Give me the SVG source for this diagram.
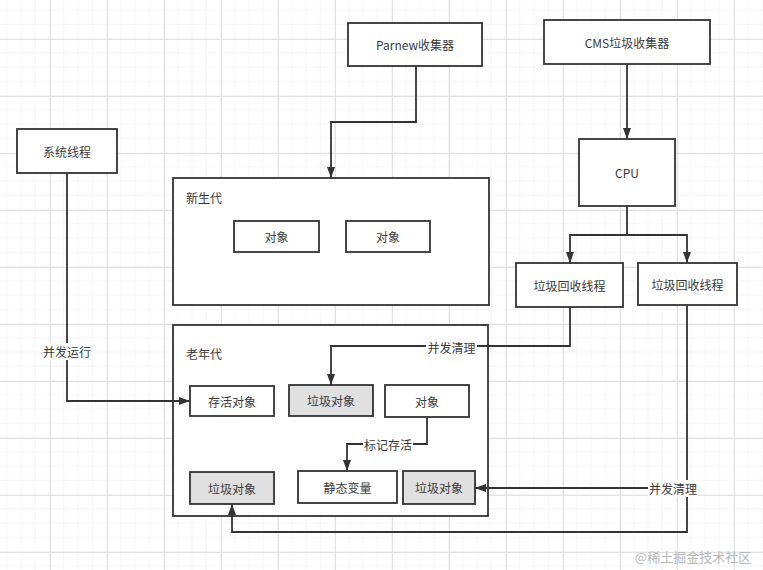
<svg xmlns="http://www.w3.org/2000/svg" width="763" height="570" viewBox="0 0 763 570">
<defs>
<pattern id="minor" x="7.25" y="10.5" width="14.25" height="14.25" patternUnits="userSpaceOnUse">
<path d="M14.25 0V14.25M0 14.25H14.25" fill="none" stroke="#eeeeee" stroke-width="1"/>
</pattern>
<pattern id="major" x="50" y="39" width="57" height="57" patternUnits="userSpaceOnUse">
<path d="M0.5 0V57M0 0.5H57" fill="none" stroke="#e2e2e2" stroke-width="1"/>
</pattern>
<marker id="arr" viewBox="0 0 11 8" refX="11" refY="4" markerWidth="11" markerHeight="8" markerUnits="userSpaceOnUse" orient="auto">
<path d="M0 0L11 4L0 8Z" fill="#333"/>
</marker>
</defs>
<style>
.box{fill:#fff;stroke:#333;stroke-width:1.8}
.gray{fill:#e0e0e0;stroke:#333;stroke-width:1.8}
.t{font-family:"Noto Sans CJK SC","Liberation Sans",sans-serif;font-size:12px;fill:#3a3a3a;text-anchor:middle;dominant-baseline:central}
.tl{font-family:"Noto Sans CJK SC","Liberation Sans",sans-serif;font-size:12px;fill:#3a3a3a;dominant-baseline:central}
.e{fill:none;stroke:#333;stroke-width:1.8;marker-end:url(#arr)}
.lbg{fill:#fff}
</style>
<rect width="763" height="570" fill="#fff"/>
<rect width="763" height="570" fill="url(#minor)"/>
<rect width="763" height="570" fill="url(#major)"/>

<g id="parnew"><rect class="box" x="348" y="23" width="134" height="43"/><text class="t" x="415" y="44.5">Parnew收集器</text></g>
<g id="cms"><rect class="box" x="544" y="20" width="166" height="44"/><text class="t" x="627" y="42">CMS垃圾收集器</text></g>
<g id="cpu"><rect class="box" x="579" y="139" width="96" height="67"/><text class="t" x="627" y="172.5">CPU</text></g>
<g id="sys"><rect class="box" x="17" y="129" width="100" height="44"/><text class="t" x="67" y="151">系统线程</text></g>
<g id="gc1"><rect class="box" x="516" y="263" width="107" height="44"/><text class="t" x="569.5" y="285">垃圾回收线程</text></g>
<g id="gc2"><rect class="box" x="638" y="263" width="99" height="42"/><text class="t" x="687.5" y="284">垃圾回收线程</text></g>

<g id="young"><rect class="box" x="173" y="178" width="316" height="127"/><text class="tl" x="186" y="197">新生代</text></g>
<g id="yobj1"><rect class="box" x="234" y="221" width="85" height="31"/><text class="t" x="276.5" y="236.5">对象</text></g>
<g id="yobj2"><rect class="box" x="346" y="221" width="84" height="31"/><text class="t" x="388" y="236.5">对象</text></g>

<g id="old"><rect class="box" x="173" y="325" width="315" height="191"/><text class="tl" x="186" y="353">老年代</text></g>
<g id="alive"><rect class="box" x="190" y="386" width="84" height="30"/><text class="t" x="232" y="401">存活对象</text></g>
<g id="garbage1"><rect class="gray" x="289" y="385" width="84" height="31"/><text class="t" x="331" y="400.5">垃圾对象</text></g>
<g id="obj"><rect class="box" x="385" y="385" width="84" height="32"/><text class="t" x="427" y="401">对象</text></g>
<g id="garbage2"><rect class="gray" x="190" y="472" width="84" height="32"/><text class="t" x="232" y="488">垃圾对象</text></g>
<g id="static"><rect class="box" x="298" y="471" width="99" height="32"/><text class="t" x="347.5" y="487">静态变量</text></g>
<g id="garbage3"><rect class="gray" x="403" y="471" width="72" height="33"/><text class="t" x="439" y="487.5">垃圾对象</text></g>

<g id="connectors">
<path class="e" d="M416 66V122H331V178"/>
<path class="e" d="M627 64V139"/>
<path class="e" d="M627 206V235H570V263"/>
<path class="e" d="M627 235H687V263"/>
<path class="e" d="M67 173V401H190"/>
<path class="e" d="M570 307V346H331V385"/>
<path class="e" d="M427 417V444H347V471"/>
<path class="e" d="M687 305V532H232V504"/>
<path class="e" d="M687 488H475"/>
<rect class="lbg" x="41" y="343" width="52" height="17"/>
<text class="t" x="67" y="351">并发运行</text>
<rect class="lbg" x="426" y="339" width="51" height="17"/>
<text class="t" x="451.5" y="347">并发清理</text>
<rect class="lbg" x="363" y="436" width="50" height="17"/>
<text class="t" x="388" y="444.5">标记存活</text>
<rect class="lbg" x="648" y="480" width="50" height="17"/>
<text class="t" x="673" y="488.5">并发清理</text>
</g>
<text class="t" x="693" y="556" style="font-size:13px;fill:#b8b8b8">@稀土掘金技术社区</text>
</svg>
